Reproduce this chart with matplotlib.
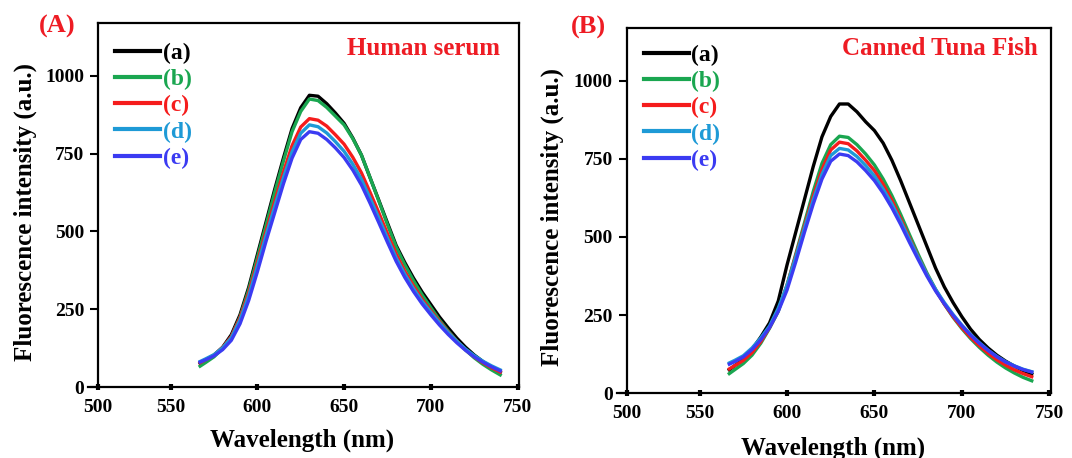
import matplotlib
matplotlib.use("Agg")
import matplotlib.pyplot as plt

# Fluorescence spectra, (A) human serum, (B) canned tuna fish
wavelength = [567, 570, 575, 580, 585, 590, 595, 600, 605, 610, 615, 620,
              625, 630, 635, 640, 645, 650, 655, 660, 665, 670, 675, 680,
              685, 690, 695, 700, 705, 710, 715, 720, 725, 730, 735, 740]

serum_a = [76, 85, 102, 128, 168, 232, 320, 425, 530, 635, 735, 830,
           897, 937, 934, 910, 880, 847, 800, 745, 672, 600, 527, 455,
           400, 350, 305, 265, 225, 190, 157, 128, 103, 82, 63, 47]
serum_b = [67, 78, 97, 124, 162, 225, 312, 415, 520, 625, 725, 820,
           885, 925, 920, 898, 870, 842, 798, 745, 672, 598, 522, 450,
           393, 342, 296, 255, 215, 180, 148, 119, 94, 73, 55, 39]
serum_c = [78, 87, 103, 127, 162, 222, 302, 400, 500, 595, 690, 775,
           835, 862, 857, 838, 810, 780, 738, 688, 625, 560, 493, 428,
           372, 325, 282, 245, 210, 177, 147, 120, 97, 78, 62, 48]
serum_d = [82, 90, 104, 126, 158, 215, 292, 388, 487, 580, 672, 755,
           815, 842, 836, 816, 788, 757, 716, 667, 606, 543, 478, 415,
           362, 316, 275, 240, 206, 175, 147, 122, 101, 83, 68, 55]
serum_e = [80, 87, 100, 120, 150, 203, 278, 370, 468, 560, 652, 735,
           795, 820, 815, 795, 768, 737, 697, 649, 590, 528, 465, 404,
           352, 307, 267, 232, 199, 169, 142, 118, 97, 80, 65, 52]

tuna_a = [75, 88, 108, 140, 180, 225, 295, 410, 515, 620, 725, 820,
          885, 925, 925, 900, 868, 840, 800, 745, 680, 610, 540, 470,
          400, 340, 290, 245, 205, 172, 145, 122, 103, 87, 73, 62]
tuna_b = [63, 75, 95, 122, 160, 208, 262, 345, 445, 545, 645, 735,
          795, 822, 818, 795, 765, 730, 685, 632, 572, 508, 445, 385,
          332, 285, 243, 207, 175, 147, 122, 100, 81, 65, 51, 40]
tuna_c = [78, 88, 105, 130, 165, 210, 265, 345, 440, 535, 630, 715,
          778, 803, 798, 775, 745, 712, 668, 617, 558, 497, 437, 380,
          330, 285, 245, 210, 179, 152, 128, 107, 90, 75, 63, 53]
tuna_d = [97, 105, 120, 145, 177, 215, 272, 345, 435, 528, 618, 700,
          760, 783, 778, 757, 728, 695, 653, 605, 550, 492, 435, 380,
          332, 290, 252, 218, 188, 162, 138, 118, 101, 88, 77, 69]
tuna_e = [93, 101, 116, 140, 171, 210, 262, 330, 420, 515, 605, 685,
          742, 765, 760, 740, 712, 680, 640, 593, 540, 483, 428, 375,
          327, 286, 249, 216, 186, 160, 137, 117, 100, 87, 76, 68]

labels = ["(a)", "(b)", "(c)", "(d)", "(e)"]
colors = ["#000000", "#1aa650", "#f51c1c", "#1e9ad6", "#3b3bf2"]
xtick_pos = [508.3, 550, 600, 650, 700, 750]
xtick_labels = ["500", "550", "600", "650", "700", "750"]
ytick_pos = [0, 250, 500, 750, 1000]

serif = "Liberation Serif"
plt.rcParams["font.family"] = serif
plt.rcParams["font.weight"] = "bold"

fig = plt.figure(figsize=(10.72, 4.58), dpi=100)
ax1 = fig.add_axes([0.0917, 0.155, 0.3927, 0.794])
ax2 = fig.add_axes([0.5846, 0.1413, 0.3958, 0.7976])

panels = [
    (ax1, [serum_a, serum_b, serum_c, serum_d, serum_e], "Human serum", "(A)",
     (0.954, 0.932), (0.053, 0.943), (-0.146, 0.481), (0.484, -0.115), 0.948),
    (ax2, [tuna_a, tuna_b, tuna_c, tuna_d, tuna_e], "Canned Tuna Fish", "(B)",
     (0.969, 0.945), (0.5485, 0.939), (-0.148, 0.483), (0.486, -0.118), 0.955),
]

for ax, series, name, tag, name_xy, tag_xy, ylab_xy, xlab_xy, leg_y in panels:
    for vals, lab, col in zip(series, labels, colors):
        ax.plot(wavelength, vals, color=col, lw=2.4, label=lab)

    ax.set_xlim(508.3, 751)
    ax.set_ylim(0, 1168)
    ax.set_xticks(xtick_pos, xtick_labels)
    ax.set_yticks(ytick_pos)
    ax.tick_params(axis="x", direction="inout", length=5, width=3,
                   labelsize=14, pad=6)
    ax.tick_params(axis="y", direction="out", length=6, width=1.5,
                   labelsize=14, pad=4)
    for s in ax.spines.values():
        s.set_linewidth(1.6)
    ax.spines["bottom"].set_bounds(502.5, 751)

    ax.set_xlabel("Wavelength (nm)", fontsize=18, fontweight="bold")
    ax.set_ylabel("Fluorescence intensity (a.u.)", fontsize=18, fontweight="bold")
    ax.xaxis.set_label_coords(*xlab_xy)
    ax.yaxis.set_label_coords(*ylab_xy)

    leg = ax.legend(loc="upper left", bbox_to_anchor=(0.04, leg_y),
                    frameon=False, handlelength=1.9, handletextpad=0.12,
                    labelspacing=0.2, borderaxespad=0, borderpad=0,
                    prop={"family": serif, "weight": "bold", "size": 17},
                    labelcolor="linecolor")
    for h in leg.get_lines():
        h.set_linewidth(3)

    ax.text(name_xy[0], name_xy[1], name, transform=ax.transAxes,
            ha="right", va="center", color="#ee1c24", fontsize=18,
            fontweight="bold")
    fig.text(tag_xy[0], tag_xy[1], tag, ha="center", va="center",
             color="#ee1c24", fontsize=19, fontweight="bold")

fig.savefig("out.png", dpi=100)
